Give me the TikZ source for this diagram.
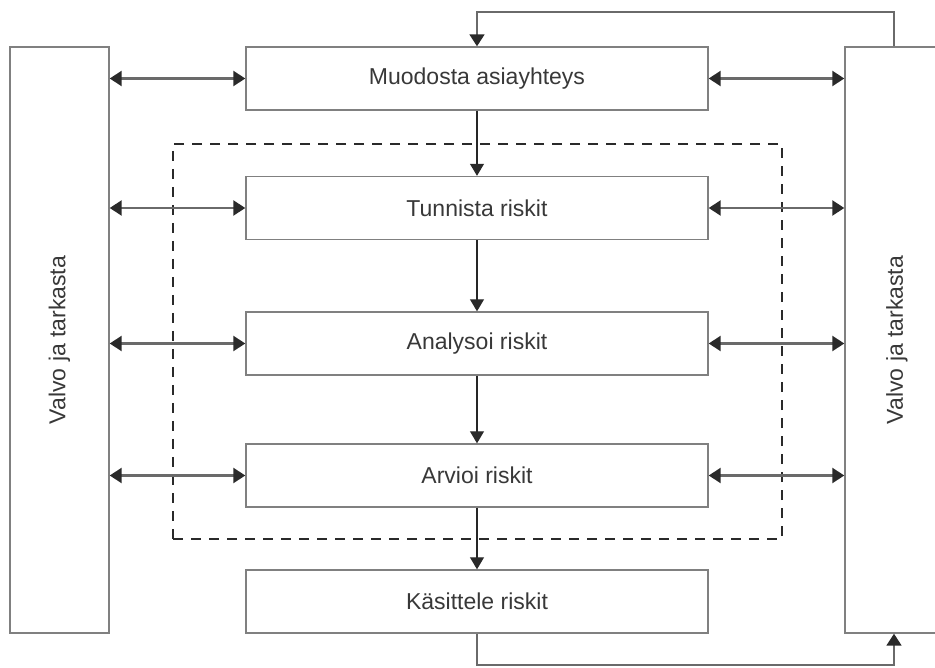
\documentclass[tikz,border=0pt]{standalone}
\usepackage{fontspec}
\setmainfont{Liberation Sans}
\usetikzlibrary{arrows.meta}
\definecolor{boxgray}{HTML}{808080}
\definecolor{txt}{HTML}{383838}
\definecolor{linegray}{HTML}{6A6A6A}
\definecolor{headc}{HTML}{2A2A2A}
\definecolor{flowc}{HTML}{262626}
\begin{document}
\begin{tikzpicture}[x=1pt,y=-1pt,
  box/.style={draw=boxgray, line width=1.4pt, minimum width=462pt, minimum height=63pt,
    inner sep=0pt, text=txt, font=\fontsize{23}{28}\selectfont},
  side/.style={draw=boxgray, line width=1.4pt, inner sep=0pt},
  sidetext/.style={rotate=90, text=txt, font=\fontsize{23}{28}\selectfont},
  biarr/.style={draw=linegray, line width=2.3pt,
    {Triangle[length=12pt,width=15pt,color=headc]}-{Triangle[length=12pt,width=15pt,color=headc]}},
  flow/.style={draw=flowc, line width=1.2pt, -{Triangle[length=12pt,width=14pt,color=headc]}},
  fb/.style={draw=linegray, line width=1.8pt, -{Triangle[length=12pt,width=15pt,color=headc]}},
  dashbox/.style={draw=headc, line width=1.5pt, dash pattern=on 10pt off 8pt}
]
\useasboundingbox (0,0) rectangle (935,668);
% side boxes
\node[side, minimum width=99pt, minimum height=586pt] (L) at (59.5,340) {};
\node[sidetext] (Lt) at (L) {Valvo ja tarkasta};
\node[side, minimum width=100pt, minimum height=586pt] (R) at (895,340) {};
\node[sidetext] (Rt) at (897,340) {Valvo ja tarkasta};
% dashed frame
\node[dashbox, minimum width=609pt, minimum height=395pt, inner sep=0pt] (D) at (477.5,341.5) {};
% central boxes
\node[box] (M) at (477,78.5) {Muodosta asiayhteys};
\node[box] (T) at (477,208) {Tunnista riskit};
\node[box] (A) at (477,343.5) {Analysoi riskit};
\node[box] (V) at (477,475.5) {Arvioi riskit};
\node[box] (K) at (477,601.5) {Käsittele riskit};
% flow arrows
\draw[flow] (M) -- (T);
\draw[flow] (T) -- (A);
\draw[flow] (A) -- (V);
\draw[flow] (V) -- (K);
% double arrows
\foreach \n in {M,T,A,V}{
  \draw[biarr] (L.east |- \n) -- (\n.west);
  \draw[biarr] (\n.east) -- (R.west |- \n);
}
% feedback lines
\coordinate (tc) at (894,12);
\coordinate (bc) at (894,665);
\draw[fb] (R.north -| tc) -- (tc) -| (M.north);
\draw[fb] (K.south) |- (bc) -- (R.south -| bc);
\end{tikzpicture}
\end{document}
